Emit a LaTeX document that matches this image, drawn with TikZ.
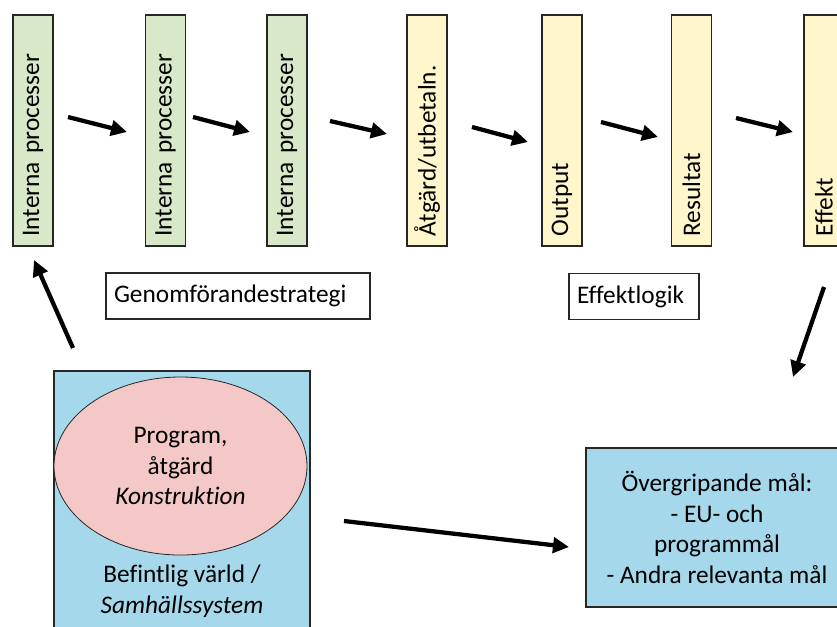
\documentclass[tikz,border=0pt]{standalone}
\usepackage{fontspec}
\setmainfont[Ligatures=NoCommon]{Carlito}
\usetikzlibrary{arrows.meta,shapes.geometric}
\definecolor{grn}{RGB}{216,232,200}
\definecolor{ylw}{RGB}{255,246,204}
\definecolor{blu}{RGB}{166,216,236}
\definecolor{pnk}{RGB}{245,200,200}

\begin{document}
\begin{tikzpicture}[x=0.75pt,y=0.75pt,yscale=-1,xscale=1,
  font=\fontsize{19}{23}\selectfont,
  stage/.style={draw=black!85,line width=1pt,rotate=90,minimum width=173.25pt,minimum height=30pt,text width=159pt,inner xsep=7pt,inner ysep=2pt,align=left},
  tag/.style={draw=black!85,line width=1pt,minimum height=34.5pt,text width=186pt,inner xsep=6pt,align=left},
  flow/.style={line width=3.2pt,-{Triangle[length=12pt,width=11.5pt]}}]
\useasboundingbox (0,0) rectangle (837,626);
\clip (0,0) rectangle (837,626);
\node [stage,fill=grn] (int1) at (33,130.5) {Interna processer};
\node [stage,fill=grn] (int2) at (165.5,130.5) {Interna processer};
\node [stage,fill=grn] (int3) at (287,130.5) {Interna processer};
\node [stage,fill=ylw] (atg) at (427,130.5) {Åtgärd/utbetaln.};
\node [stage,fill=ylw] (outp) at (562,130.5) {Output};
\node [stage,fill=ylw] (res) at (691.5,130.5) {Resultat};
\node [stage,fill=ylw] (eff) at (824,130.5) {Effekt};
\node [tag] (genom) at (238,296) {Genomförandestrategi};
\node [tag,text width=85.5pt] (logik) at (634,296.5) {Effektlogik};
\node [draw=black!85,line width=1pt,fill=blu,minimum width=192pt,minimum height=216.75pt] (world) at (182,515.5) {};
\node [ellipse,draw=black!85,line width=0.6pt,fill=pnk,minimum width=189.75pt,minimum height=133.5pt,inner sep=0pt,align=center] (prog) at (180.5,466) {Program,\\åtgärd\\\textit{Konstruktion}};
\node [align=center] (worldtxt) at (182,591) {Befintlig värld /\\\textit{Samhällssystem}};
\node [draw=black!85,line width=1pt,fill=blu,minimum width=196.5pt,minimum height=119.25pt,align=center] (goal) at (717,527.5) {Övergripande mål:\\- EU- och\\programmål\\- Andra relevanta mål};
\coordinate (s1) at (68,117); \coordinate (e1) at (127,132);
\coordinate (s2) at (193,117); \coordinate (e2) at (250,132);
\coordinate (s3) at (330,121); \coordinate (e3) at (387,134);
\coordinate (s4) at (472,127); \coordinate (e4) at (528,142);
\coordinate (s5) at (601,122); \coordinate (e5) at (658,137);
\coordinate (s6) at (736,118); \coordinate (e6) at (793,132);
\coordinate (s7) at (73,348); \coordinate (e7) at (34,260);
\coordinate (s8) at (824,287); \coordinate (e8) at (793,377);
\coordinate (s9) at (344,521); \coordinate (e9) at (569,547);
\draw [flow] (s1) -- (e1);
\draw [flow] (s2) -- (e2);
\draw [flow] (s3) -- (e3);
\draw [flow] (s4) -- (e4);
\draw [flow] (s5) -- (e5);
\draw [flow] (s6) -- (e6);
\draw [flow] (s7) -- (e7);
\draw [flow] (s8) -- (e8);
\draw [flow] (s9) -- (e9);
\end{tikzpicture}
\end{document}
